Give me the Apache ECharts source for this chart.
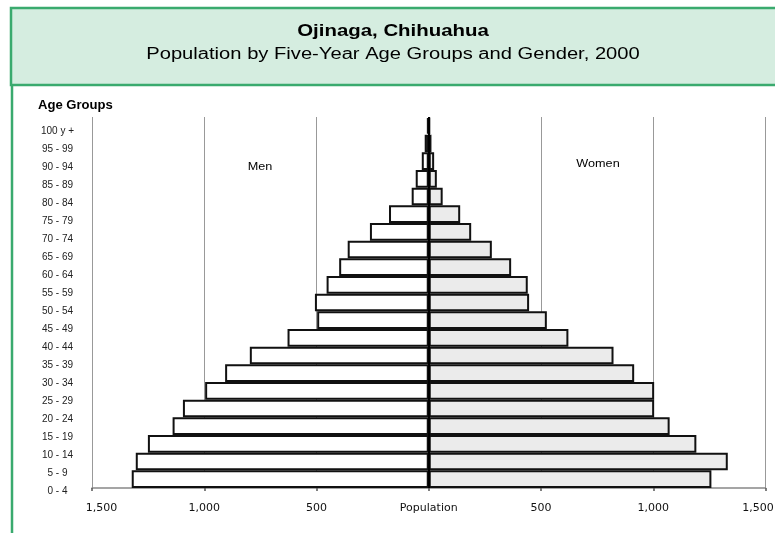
<!DOCTYPE html>
<html>
<head>
<meta charset="utf-8">
<script src="https://cdn.jsdelivr.net/npm/echarts@6/dist/echarts.min.js"></script>
<style>
html,body{margin:0;padding:0;background:#fff;overflow:hidden;}
#chart{width:775px;height:533px;}
</style>
</head>
<body>
<div id="chart"></div>
<script>
var ageGroups = ['0 - 4','5 - 9','10 - 14','15 - 19','20 - 24','25 - 29','30 - 34','35 - 39','40 - 44','45 - 49','50 - 54','55 - 59','60 - 64','65 - 69','70 - 74','75 - 79','80 - 84','85 - 89','90 - 94','95 - 99','100 y +'];
var men = [1323, 1305, 1251, 1141, 1095, 996, 907, 797, 629, 497, 507, 455, 399, 361, 262, 177, 76, 58, 31, 18, 8];
var women = [1259, 1332, 1192, 1073, 1004, 1004, 915, 823, 622, 526, 447, 441, 367, 281, 189, 140, 62, 36, 24, 12, 5];
var xTicks = [-1500, -1000, -500, 0, 500, 1000, 1500];

var FONT = '"Liberation Sans", Arial, sans-serif';
var DFONT = '"DejaVu Sans", sans-serif';
var chart = echarts.init(document.getElementById('chart'), null, {renderer: 'canvas'});

function fmt(v) {
  if (v === 0) return 'Population';
  var a = Math.abs(v);
  var s = a.toString().replace(/\B(?=(\d{3})+(?!\d))/g, ',');
  if (v === xTicks[0]) return '{l|' + s + '}';
  if (v === xTicks[xTicks.length - 1]) return '{r|' + s + '}';
  return s;
}

function txt(t, font, x, y, sx, align) {
  return {
    type: 'text', x: x, y: y, scaleX: sx,
    style: {text: t, font: font, fill: '#000', textAlign: align || 'center', textVerticalAlign: 'middle', x: 0, y: 0}
  };
}

var option = {
  backgroundColor: '#ffffff',
  animation: false,
  graphic: [
    {type: 'rect', shape: {x: 11, y: 8, width: 770, height: 77}, style: {fill: '#d5ede0', stroke: '#3aaa6e', lineWidth: 2.5}, z: -10},
    {type: 'line', shape: {x1: 12, y1: 85, x2: 12, y2: 540}, style: {stroke: '#3aaa6e', lineWidth: 2.5}, z: -10},
    txt('Ojinaga, Chihuahua', 'bold 17px ' + FONT, 393, 31, 1.2),
    txt('Population by Five-Year Age Groups and Gender, 2000', '16px ' + FONT, 393, 55, 1.26),
    txt('Age Groups', 'bold 12px ' + FONT, 38, 106, 1.09, 'left'),
    txt('Men', '11px ' + FONT, 260, 167, 1.15),
    txt('Women', '11px ' + FONT, 598, 164, 1.15)
  ],
  grid: [
    {left: 92, right: 9.5, top: 117, bottom: 45, containLabel: false, outerBoundsMode: 'none'},
    {left: 92, right: 9.5, top: 122, height: 378, containLabel: false, outerBoundsMode: 'none'}
  ],
  xAxis: [
    {
      type: 'value', gridIndex: 0, min: -1500, max: 1500, interval: 500,
      axisLine: {show: true, lineStyle: {color: '#888', width: 1.5}},
      axisTick: {show: true, length: 3, lineStyle: {color: '#555', width: 1.5}},
      axisLabel: {
        formatter: fmt, margin: 15, fontSize: 11, fontFamily: DFONT, color: '#111',
        rich: {
          l: {fontSize: 11, fontFamily: DFONT, color: '#111', padding: [0, 0, 0, 19]},
          r: {fontSize: 11, fontFamily: DFONT, color: '#111', padding: [0, 15, 0, 0]}
        }
      },
      splitLine: {show: true, lineStyle: {color: '#999', width: 1}}
    },
    {type: 'value', gridIndex: 1, min: -1500, max: 1500, show: false}
  ],
  yAxis: [
    {
      type: 'category', gridIndex: 0, data: ageGroups,
      axisLine: {show: false}, axisTick: {show: false}, axisLabel: {show: false}, splitLine: {show: false}
    },
    {
      type: 'category', gridIndex: 1, data: ageGroups,
      axisLine: {show: false}, axisTick: {show: false},
      axisLabel: {show: true, align: 'center', margin: 34.5, fontSize: 10, fontFamily: FONT, color: '#222', interval: 0},
      splitLine: {show: false}
    }
  ],
  series: [
    {
      name: 'Men', type: 'bar', xAxisIndex: 0, yAxisIndex: 0,
      data: men.map(function (v) { return -v; }),
      barCategoryGap: '0%', barGap: '-100%',
      itemStyle: {color: '#ffffff', borderColor: '#111', borderWidth: 2},
      markLine: {
        silent: true, symbol: 'none', label: {show: false},
        lineStyle: {color: '#000', width: 2, type: 'solid'},
        data: [{xAxis: 0}]
      }
    },
    {
      name: 'Women', type: 'bar', xAxisIndex: 0, yAxisIndex: 0,
      data: women,
      barCategoryGap: '0%', barGap: '-100%',
      itemStyle: {color: '#ebebeb', borderColor: '#111', borderWidth: 2}
    }
  ]
};
chart.setOption(option);
</script>
</body>
</html>
